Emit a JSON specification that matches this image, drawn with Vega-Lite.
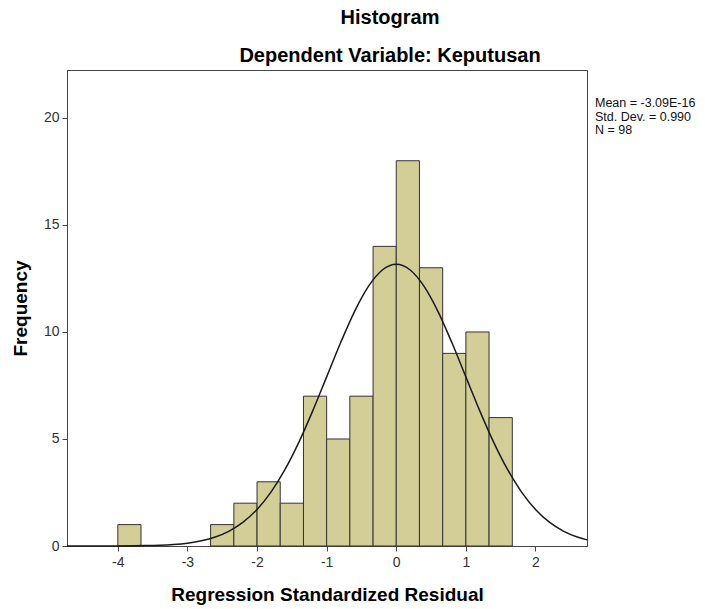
{
  "$schema": "https://vega.github.io/schema/vega-lite/v6.json",
  "width": 520,
  "height": 476,
  "autosize": {"type": "none"},
  "padding": {"left": 67, "top": 70, "right": 118, "bottom": 63},
  "background": "white",
  "config": {
    "font": "Liberation Sans",
    "view": {"fill": "#f0f0f0", "stroke": "#444444", "strokeWidth": 1},
    "axis": {
      "grid": false,
      "domainColor": "#444444",
      "tickColor": "#444444",
      "tickSize": 5,
      "labelFont": "Liberation Sans",
      "labelFontSize": 14,
      "labelColor": "#333333",
      "titleFont": "Liberation Sans",
      "titleFontSize": 19,
      "titleFontWeight": "bold",
      "titleColor": "#000000"
    }
  },
  "title": {
    "text": "Histogram",
    "subtitle": "Dependent Variable: Keputusan",
    "anchor": "middle",
    "dx": 63,
    "font": "Liberation Sans",
    "fontSize": 20,
    "fontWeight": "bold",
    "color": "#000000",
    "subtitleFont": "Liberation Sans",
    "subtitleFontSize": 20,
    "subtitleFontWeight": "bold",
    "subtitleColor": "#000000",
    "subtitlePadding": 18,
    "offset": 4
  },
  "layer": [
    {
      "data": {
        "values": [
          {"bin_start": -4.0, "bin_end": -3.667, "count": 1},
          {"bin_start": -2.667, "bin_end": -2.333, "count": 1},
          {"bin_start": -2.333, "bin_end": -2.0, "count": 2},
          {"bin_start": -2.0, "bin_end": -1.667, "count": 3},
          {"bin_start": -1.667, "bin_end": -1.333, "count": 2},
          {"bin_start": -1.333, "bin_end": -1.0, "count": 7},
          {"bin_start": -1.0, "bin_end": -0.667, "count": 5},
          {"bin_start": -0.667, "bin_end": -0.333, "count": 7},
          {"bin_start": -0.333, "bin_end": 0.0, "count": 14},
          {"bin_start": 0.0, "bin_end": 0.333, "count": 18},
          {"bin_start": 0.333, "bin_end": 0.667, "count": 13},
          {"bin_start": 0.667, "bin_end": 1.0, "count": 9},
          {"bin_start": 1.0, "bin_end": 1.333, "count": 10},
          {"bin_start": 1.333, "bin_end": 1.667, "count": 6}
        ]
      },
      "mark": {"type": "rect", "fill": "#d3ce97", "stroke": "#333333", "strokeWidth": 1},
      "encoding": {
        "x": {
          "field": "bin_start",
          "type": "quantitative",
          "scale": {"domain": [-4.73, 2.74], "nice": false, "zero": false},
          "axis": {
            "values": [-4, -3, -2, -1, 0, 1, 2],
            "labelExpr": "'' + datum.value",
            "title": "Regression Standardized Residual",
            "labelPadding": 4,
            "titlePadding": 16
          }
        },
        "x2": {"field": "bin_end"},
        "y": {
          "field": "count",
          "type": "quantitative",
          "scale": {"domain": [0, 22.24], "nice": false},
          "axis": {
            "values": [0, 5, 10, 15, 20],
            "title": "Frequency",
            "labelPadding": 3,
            "titlePadding": 13
          }
        },
        "y2": {"datum": 0}
      }
    },
    {
      "data": {
        "values": [
          {"x": -4.73, "y": 0.00015},
          {"x": -4.4, "y": 0.0007},
          {"x": -4.0, "y": 0.0038},
          {"x": -3.8, "y": 0.0083},
          {"x": -3.6, "y": 0.0177},
          {"x": -3.4, "y": 0.036},
          {"x": -3.2, "y": 0.071},
          {"x": -3.0, "y": 0.133},
          {"x": -2.8, "y": 0.241},
          {"x": -2.6, "y": 0.418},
          {"x": -2.4, "y": 0.697},
          {"x": -2.2, "y": 1.114},
          {"x": -2.0, "y": 1.709},
          {"x": -1.8, "y": 2.52},
          {"x": -1.6, "y": 3.565},
          {"x": -1.4, "y": 4.841},
          {"x": -1.2, "y": 6.313},
          {"x": -1.0, "y": 7.901},
          {"x": -0.8, "y": 9.494},
          {"x": -0.6, "y": 10.952},
          {"x": -0.4, "y": 12.128},
          {"x": -0.2, "y": 12.894},
          {"x": 0.0, "y": 13.16},
          {"x": 0.2, "y": 12.894},
          {"x": 0.4, "y": 12.128},
          {"x": 0.6, "y": 10.952},
          {"x": 0.8, "y": 9.494},
          {"x": 1.0, "y": 7.901},
          {"x": 1.2, "y": 6.313},
          {"x": 1.4, "y": 4.841},
          {"x": 1.6, "y": 3.565},
          {"x": 1.8, "y": 2.52},
          {"x": 2.0, "y": 1.709},
          {"x": 2.2, "y": 1.114},
          {"x": 2.4, "y": 0.697},
          {"x": 2.6, "y": 0.418},
          {"x": 2.74, "y": 0.286}
        ]
      },
      "mark": {"type": "line", "color": "#1a1a1a", "strokeWidth": 1.5, "interpolate": "monotone"},
      "encoding": {
        "x": {"field": "x", "type": "quantitative"},
        "y": {"field": "y", "type": "quantitative"}
      }
    },
    {
      "data": {"values": [{"stats": ["Mean = -3.09E-16", "Std. Dev. = 0.990", "N = 98"]}]},
      "mark": {
        "type": "text",
        "align": "left",
        "baseline": "top",
        "font": "Liberation Sans",
        "fontSize": 12.5,
        "lineHeight": 13.5,
        "color": "#111111",
        "x": {"expr": "width + 8"},
        "y": 27
      },
      "encoding": {"text": {"field": "stats"}}
    }
  ]
}
